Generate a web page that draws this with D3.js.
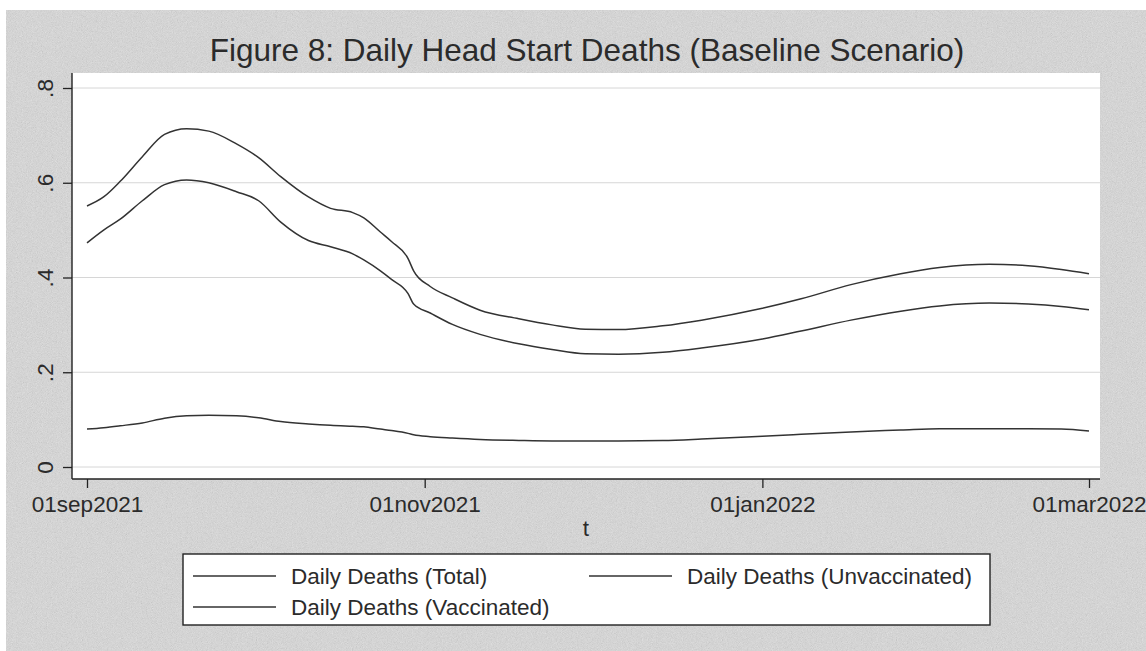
<!DOCTYPE html>
<html>
<head>
<meta charset="utf-8">
<script src="https://cdn.jsdelivr.net/npm/d3@7"></script>
<style>
  body { margin: 0; background: #fff; }
  text { font-family: "Liberation Sans", Arial, sans-serif; fill: #2b2b2b; }
</style>
</head>
<body>
<div id="vis"></div>
<script>
// days after 01sep2021
var days = [0, 3, 6, 10, 14, 18, 22, 27, 31, 35, 40, 44, 48, 50, 53, 55, 58, 59, 62, 66,
    71, 78, 84, 90, 96, 104, 111, 122, 129, 138, 147, 154, 163, 170, 176, 181];

var total = [0.551, 0.570, 0.603, 0.655, 0.702, 0.714, 0.709, 0.682, 0.653, 0.613, 0.570, 0.546,
    0.537, 0.526, 0.496, 0.476, 0.440, 0.414, 0.381, 0.357, 0.331, 0.313, 0.300, 0.291, 0.290,
    0.298, 0.310, 0.335, 0.355, 0.385, 0.408, 0.421, 0.428, 0.425, 0.417, 0.408];

var unvacc = [0.473, 0.500, 0.523, 0.562, 0.596, 0.606, 0.600, 0.581, 0.562, 0.517, 0.478, 0.465,
    0.450, 0.437, 0.414, 0.396, 0.366, 0.344, 0.325, 0.301, 0.280, 0.260, 0.248, 0.239, 0.238,
    0.242, 0.251, 0.270, 0.287, 0.310, 0.329, 0.340, 0.346, 0.344, 0.339, 0.332];

var vacc = [0.080, 0.083, 0.087, 0.093, 0.103, 0.108, 0.109, 0.108, 0.104, 0.096, 0.091, 0.088,
    0.086, 0.085, 0.080, 0.077, 0.071, 0.068, 0.064, 0.061, 0.058, 0.056, 0.055, 0.055, 0.055,
    0.056, 0.059, 0.065, 0.069, 0.074, 0.078, 0.081, 0.081, 0.081, 0.080, 0.076];

var seriesNames = ["Daily Deaths (Total)", "Daily Deaths (Unvaccinated)", "Daily Deaths (Vaccinated)"];
var yTicks = [0, 0.2, 0.4, 0.6, 0.8];
var yTickLabels = ["0", ".2", ".4", ".6", ".8"];
var xTickDates = ["2021-09-01", "2021-11-01", "2022-01-01", "2022-03-01"];
var xTickLabels = ["01sep2021", "01nov2021", "01jan2022", "01mar2022"];

var width = 1146;
var height = 651;

var svg = d3.select("#vis")
    .append("svg")
    .attr("width", width)
    .attr("height", height);

var defs = svg.append("defs");
var filter = defs.append("filter").attr("id", "noise")
    .attr("x", 0).attr("y", 0).attr("width", "100%").attr("height", "100%");
filter.append("feTurbulence")
    .attr("type", "fractalNoise")
    .attr("baseFrequency", 1.2)
    .attr("numOctaves", 1)
    .attr("stitchTiles", "stitch");
filter.append("feColorMatrix")
    .attr("type", "matrix")
    .attr("values", "0.33 0.33 0.33 0 0  0.33 0.33 0.33 0 0  0.33 0.33 0.33 0 0  0 0 0 0 1");

// textured gray background
svg.append("rect")
    .attr("x", 6).attr("y", 10)
    .attr("width", width - 6).attr("height", height - 10)
    .attr("fill", "#e2e2e2");
svg.append("rect")
    .attr("x", 6).attr("y", 10)
    .attr("width", width - 6).attr("height", height - 10)
    .attr("filter", "url(#noise)")
    .attr("opacity", 0.35);

var parse = d3.timeParse("%Y-%m-%d");
var start = parse("2021-09-01");

var xscale = d3.scaleTime()
    .domain([start, parse("2022-03-01")])
    .range([87, 1089]);

var yscale = d3.scaleLinear()
    .domain([0, 0.8])
    .range([467, 88]);

var plot = { left: 72, top: 73, right: 1100, bottom: 479 };

svg.append("rect")
    .attr("x", plot.left).attr("y", plot.top)
    .attr("width", plot.right - plot.left)
    .attr("height", plot.bottom - plot.top)
    .attr("fill", "#fff");

// grid lines
svg.selectAll(".grid")
    .data(yTicks)
    .enter()
    .append("line")
    .attr("class", "grid")
    .attr("x1", plot.left).attr("x2", plot.right)
    .attr("y1", function (d) { return yscale(d); })
    .attr("y2", function (d) { return yscale(d); })
    .attr("stroke", "#d6d6d6")
    .attr("stroke-width", 1);

// y axis
var yaxis = d3.axisLeft(yscale)
    .tickValues(yTicks)
    .tickSize(9)
    .tickPadding(0)
    .tickFormat(function (d, i) { return yTickLabels[i]; });

var gy = svg.append("g")
    .attr("class", "y axis")
    .attr("transform", "translate(" + plot.left + ",0)")
    .call(yaxis);
gy.select(".domain").remove();
gy.selectAll(".tick line").attr("stroke", "#222").attr("stroke-width", 1.3);
gy.selectAll(".tick text")
    .attr("x", null).attr("dy", null)
    .attr("transform", "translate(-19,0) rotate(-90)")
    .attr("text-anchor", "middle")
    .style("font-size", "22.5px")
    .style("font-family", "'Liberation Sans', Arial, sans-serif")
    .attr("fill", "#2b2b2b");
svg.append("line")
    .attr("x1", plot.left).attr("x2", plot.left)
    .attr("y1", plot.top).attr("y2", plot.bottom)
    .attr("stroke", "#222").attr("stroke-width", 1.4);

// x axis
var xaxis = d3.axisBottom(xscale)
    .tickValues(xTickDates.map(parse))
    .tickSize(9)
    .tickPadding(8)
    .tickFormat(function (d, i) { return xTickLabels[i]; });

var gx = svg.append("g")
    .attr("class", "x axis")
    .attr("transform", "translate(0," + plot.bottom + ")")
    .call(xaxis);
gx.select(".domain").remove();
gx.selectAll(".tick line").attr("stroke", "#222").attr("stroke-width", 1.3);
gx.selectAll(".tick text")
    .style("font-size", "22.5px")
    .style("font-family", "'Liberation Sans', Arial, sans-serif")
    .attr("fill", "#2b2b2b");
svg.append("line")
    .attr("x1", plot.left).attr("x2", plot.right)
    .attr("y1", plot.bottom).attr("y2", plot.bottom)
    .attr("stroke", "#222").attr("stroke-width", 1.4);

// lines
var line = d3.line()
    .x(function (d) { return xscale(d3.timeDay.offset(start, d[0])); })
    .y(function (d) { return yscale(d[1]); })
    .curve(d3.curveMonotoneX);

[total, unvacc, vacc].forEach(function (vals) {
    svg.append("path")
        .datum(days.map(function (d, i) { return [d, vals[i]]; }))
        .attr("fill", "none")
        .attr("stroke", "#333")
        .attr("stroke-width", 1.5)
        .attr("d", line);
});

// title
svg.append("text")
    .attr("x", 587).attr("y", 61)
    .attr("text-anchor", "middle")
    .style("font-size", "31.5px")
    .text("Figure 8: Daily Head Start Deaths (Baseline Scenario)");

// x axis title
svg.append("text")
    .attr("x", 586).attr("y", 536)
    .attr("text-anchor", "middle")
    .style("font-size", "22.5px")
    .text("t");

// legend
var legend = svg.append("g");
legend.append("rect")
    .attr("x", 183).attr("y", 554)
    .attr("width", 807).attr("height", 71)
    .attr("fill", "#fff")
    .attr("stroke", "#222")
    .attr("stroke-width", 1.4);

var legendPos = [[193, 576], [589, 576], [193, 607]];
seriesNames.forEach(function (name, i) {
    var p = legendPos[i];
    legend.append("line")
        .attr("x1", p[0]).attr("x2", p[0] + 83)
        .attr("y1", p[1]).attr("y2", p[1])
        .attr("stroke", "#333").attr("stroke-width", 1.5);
    legend.append("text")
        .attr("x", p[0] + 98).attr("y", p[1] + 8)
        .style("font-size", "22.5px")
        .text(name);
});
</script>
</body>
</html>
